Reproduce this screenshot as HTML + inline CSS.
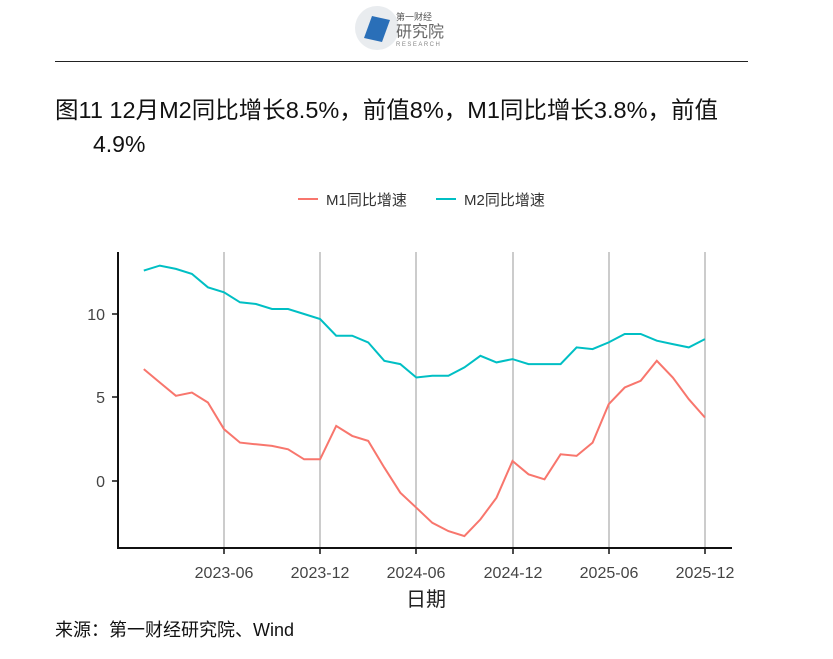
<!DOCTYPE html>
<html><head><meta charset="utf-8"><style>
body{margin:0;background:#fff;width:833px;height:659px;overflow:hidden;font-family:"Liberation Sans","Noto Sans CJK SC",sans-serif;}
</style></head><body>
<svg width="833" height="659" xmlns="http://www.w3.org/2000/svg" style="position:absolute;left:0;top:0">
<circle cx="377" cy="28" r="22" fill="#e9ecef"/>
<path d="M364 38 L372 16 L390 20 L382 42 Z" fill="#2a6fb8"/>
<text x="396" y="20" font-size="9" fill="#555" font-family="Noto Sans CJK SC,sans-serif">第一财经</text>
<text x="396" y="37" font-size="16" fill="#666" font-family="Noto Sans CJK SC,sans-serif">研究院</text>
<text x="396" y="46" font-size="6" fill="#888" letter-spacing="1.5">RESEARCH</text>
<line x1="55" y1="61.5" x2="748" y2="61.5" stroke="#222" stroke-width="1"/>
<text x="55" y="118" font-size="23.5" fill="#111" textLength="663" font-family="Liberation Sans,Noto Sans CJK SC,sans-serif">图11 12月M2同比增长8.5%，前值8%，M1同比增长3.8%，前值</text>
<text x="93" y="152" font-size="23" fill="#111">4.9%</text>
<line x1="298" y1="199" x2="318" y2="199" stroke="#F8766D" stroke-width="2"/>
<text x="326" y="205" font-size="15" fill="#333">M1同比增速</text>
<line x1="436" y1="199" x2="456" y2="199" stroke="#00BFC4" stroke-width="2"/>
<text x="464" y="205" font-size="15" fill="#333">M2同比增速</text>
<g stroke="#aaa" stroke-width="1.2">
<line x1="224" y1="252" x2="224" y2="548"/><line x1="320" y1="252" x2="320" y2="548"/>
<line x1="416" y1="252" x2="416" y2="548"/><line x1="513" y1="252" x2="513" y2="548"/>
<line x1="609" y1="252" x2="609" y2="548"/><line x1="705" y1="252" x2="705" y2="548"/>
</g>
<g stroke="#111" stroke-width="2">
<line x1="118" y1="252" x2="118" y2="549"/><line x1="117" y1="548" x2="732" y2="548"/>
</g>
<g stroke="#111" stroke-width="1.5">
<line x1="112" y1="314" x2="118" y2="314"/><line x1="112" y1="397" x2="118" y2="397"/><line x1="112" y1="481" x2="118" y2="481"/>
<line x1="224" y1="548" x2="224" y2="554"/><line x1="320" y1="548" x2="320" y2="554"/><line x1="416" y1="548" x2="416" y2="554"/>
<line x1="513" y1="548" x2="513" y2="554"/><line x1="609" y1="548" x2="609" y2="554"/><line x1="705" y1="548" x2="705" y2="554"/>
</g>
<g font-size="16" fill="#444" text-anchor="end">
<text x="105" y="320">10</text><text x="105" y="403">5</text><text x="105" y="487">0</text>
</g>
<g font-size="16" fill="#444" text-anchor="middle">
<text x="224" y="578">2023-06</text><text x="320" y="578">2023-12</text><text x="416" y="578">2024-06</text>
<text x="513" y="578">2024-12</text><text x="609" y="578">2025-06</text><text x="705" y="578">2025-12</text>
</g>
<text x="426" y="606" font-size="20" fill="#222" text-anchor="middle">日期</text>
<polyline id="m1" fill="none" stroke="#F8766D" stroke-width="2" points=""/>
<polyline id="m2" fill="none" stroke="#00BFC4" stroke-width="2" points=""/>
<text x="55" y="636" font-size="18" fill="#111">来源：第一财经研究院、Wind</text>
</svg>
<script>
var m1=[6.7,5.9,5.1,5.3,4.7,3.1,2.3,2.2,2.1,1.9,1.3,1.3,3.3,2.7,2.4,0.8,-0.7,-1.6,-2.5,-3.0,-3.3,-2.3,-1.0,1.2,0.4,0.1,1.6,1.5,2.3,4.6,5.6,6.0,7.2,6.2,4.9,3.8];
var m2=[12.6,12.9,12.7,12.4,11.6,11.3,10.7,10.6,10.3,10.3,10.0,9.7,8.7,8.7,8.3,7.2,7.0,6.2,6.3,6.3,6.8,7.5,7.1,7.3,7.0,7.0,7.0,8.0,7.9,8.3,8.8,8.8,8.4,8.2,8.0,8.5];
function pts(a){return a.map(function(v,i){return (143.8+16.03*i).toFixed(1)+","+(481-v*16.7).toFixed(1)}).join(" ")}
document.getElementById("m1").setAttribute("points",pts(m1));
document.getElementById("m2").setAttribute("points",pts(m2));
</script>
</body></html>
